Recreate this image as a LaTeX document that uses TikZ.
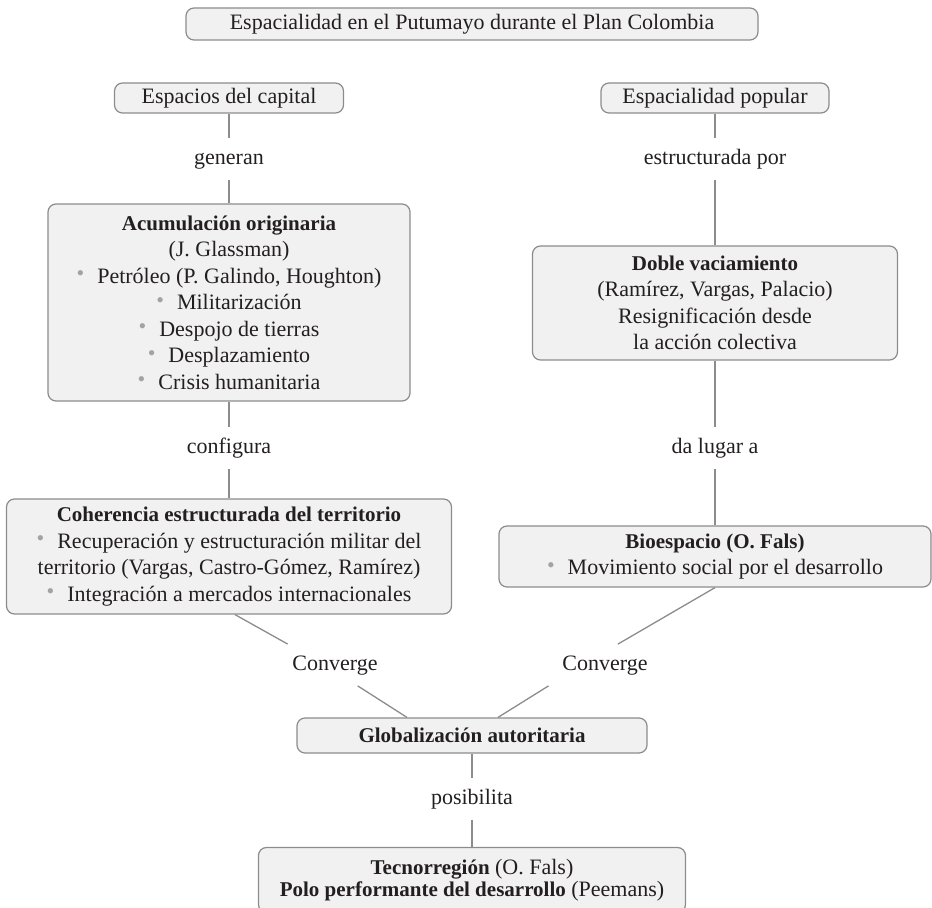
\documentclass[tikz,border=0pt]{standalone}
\usepackage{fontspec}
\setmainfont{Liberation Serif}[BoldFeatures={Scale=0.955}]
\usepackage{xcolor}
\usepackage{tikz}
\definecolor{cgray}{HTML}{8C8C8C}
\definecolor{cfill}{HTML}{F1F1F1}
\definecolor{ctext}{HTML}{231F20}
\definecolor{cbul}{HTML}{A3A3A3}
\newcommand{\bul}{{\color{cbul}\raisebox{1.2pt}{\textbullet}}\hspace{6.5pt}}

\begin{document}
\begin{tikzpicture}[x=0.5pt, y=-0.5pt, font=\fontsize{11pt}{13.25pt}\selectfont, text=ctext,
  concept/.style={draw=cgray, fill=cfill, line width=0.6pt, rounded corners=4pt, inner sep=0pt, align=center},
  linkword/.style={inner xsep=2pt, inner ysep=0pt, text height=7.6pt, text depth=2.4pt, minimum height=20.5pt},
  link/.style={draw=cgray, line width=0.65pt},
]
\useasboundingbox (0,0) rectangle (932,908);
\clip (0,0) rectangle (932,908);
\node[concept, minimum width=286pt, minimum height=16pt] (titulo) at (472,24) {Espacialidad en el Putumayo durante el Plan Colombia};
\node[concept, minimum width=114.5pt, minimum height=15pt] (capital) at (229,98) {Espacios del capital};
\node[concept, minimum width=114pt, minimum height=15pt] (popular) at (715,98) {Espacialidad popular};
\node[concept, minimum width=181pt, minimum height=98.5pt] (acum) at (229,302.5) {\textbf{Acumulación originaria}\\(J. Glassman)\\\bul Petróleo (P. Galindo, Houghton)\\\bul Militarización\\\bul Despojo de tierras\\\bul Desplazamiento\\\bul Crisis humanitaria};
\node[concept, minimum width=222.5pt, minimum height=57.5pt] (coher) at (229,556.5) {\textbf{Coherencia estructurada del territorio}\\\bul Recuperación y estructuración militar del\\territorio (Vargas, Castro-Gómez, Ramírez)\\\bul Integración a mercados internacionales};
\node[concept, minimum width=182.5pt, minimum height=57pt] (doble) at (715,303) {\textbf{Doble vaciamiento}\\(Ramírez, Vargas, Palacio)\\Resignificación desde\\la acción colectiva};
\node[concept, minimum width=216pt, minimum height=30.5pt] (bio) at (715,556.5) {\textbf{Bioespacio (O. Fals)}\\\bul Movimiento social por el desarrollo};
\node[concept, minimum width=175pt, minimum height=17.5pt] (glob) at (472,735.5) {\textbf{Globalización autoritaria}};
\node[concept, minimum width=213.5pt, minimum height=32.5pt] (tecno) at (472,880) {\textbf{Tecnorregión} (O. Fals)\\[-2.2pt]\textbf{Polo performante del desarrollo} (Peemans)};

\node[linkword] (gen) at (229,159) {generan};
\node[linkword] (est) at (715,159) {estructurada por};
\node[linkword] (conf) at (229,448) {configura};
\node[linkword] (dal) at (715,448) {da lugar a};
\node[linkword] (convA) at (325,665) {\hspace*{10pt}Converge};
\node[linkword] (convB) at (582,665) {\hspace*{23pt}Converge};
\node[linkword] (pos) at (472,799) {posibilita};

\draw[link] (capital) -- (gen);
\draw[link] (gen) -- (acum);
\draw[link] (acum) -- (conf);
\draw[link] (conf) -- (coher);
\draw[link] (popular) -- (est);
\draw[link] (est) -- (doble);
\draw[link] (doble) -- (dal);
\draw[link] (dal) -- (bio);
\draw[link] ([xshift=3pt]coher.south) -- (convA);
\draw[link] (convA) -- ([xshift=-32.5pt]glob.north);
\draw[link] (bio.south) -- (convB);
\draw[link] (convB) -- ([xshift=13pt]glob.north);
\draw[link] (glob) -- (pos);
\draw[link] (pos) -- (tecno);
\end{tikzpicture}
\end{document}
